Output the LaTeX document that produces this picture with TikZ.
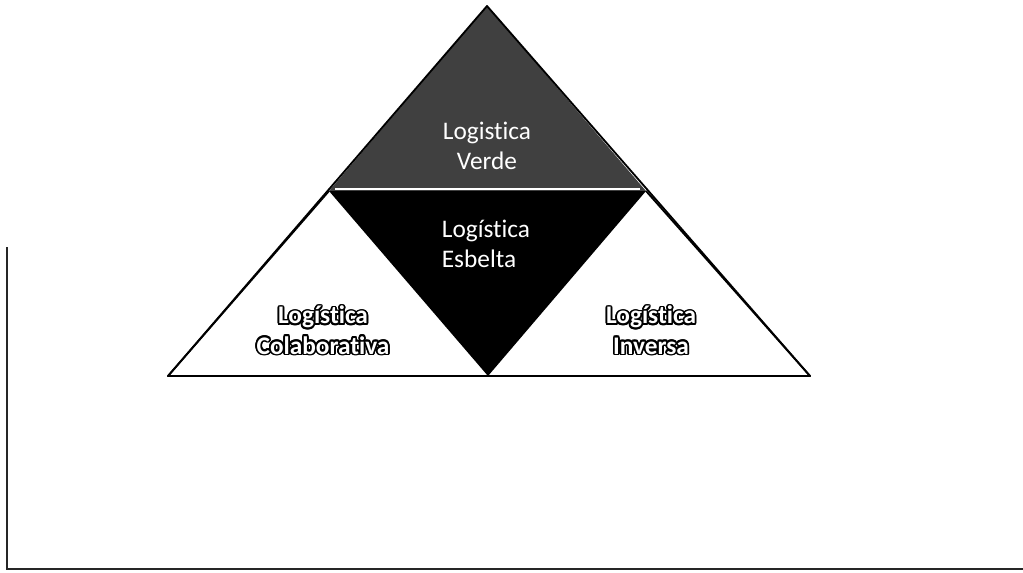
\documentclass[tikz,border=0pt]{standalone}
\usepackage{fontspec}
\setmainfont[Ligatures=CommonOff]{Carlito}
\usepackage{contour}
\contourlength{1.2pt}
\usetikzlibrary{calc}
\newcommand{\outl}[1]{\contour{black}{#1}}
\tikzset{
  piece/.style={draw=black,line width=1.3pt,line join=round},
  lbl/.style={text=white,font=\fontsize{18}{21.5}\selectfont,align=center,inner sep=0pt},
  frame/.style={line width=1.3pt,black!85}
}
\begin{document}
\begin{tikzpicture}[x=0.025cm,y=-0.025cm]
  \useasboundingbox (0,0) rectangle (1023,572);
  % corners of the pyramid
  \coordinate (apex) at (487,6);
  \coordinate (ml) at (329,191);
  \coordinate (mr) at (646,191);
  \coordinate (bl) at (168,376);
  \coordinate (bm) at (488,376);
  \coordinate (br) at (810,376);
  % the four pieces
  \fill[black!75] (apex) -- (ml) -- (mr) -- cycle;
  \fill[black] (ml) -- (mr) -- (bm) -- cycle;
  \draw[piece] (ml) -- (bl) -- (bm);
  \draw[piece] (mr) -- (br) -- (bm);
  \draw[piece] (apex) -- (bl) -- (br) -- cycle;
  \draw[white,line width=0.8pt] ($(ml)+(6,-2)$) -- ($(mr)+(-6,-2)$);
  % labels
  \node[lbl] (verde) at (487,146) {Logistica\\Verde};
  \node[lbl,align=left] (esbelta) at (486,244) {Logística\\Esbelta};
  \node[lbl,font=\fontsize{18}{21.5}\selectfont\bfseries] (colab) at (323,331) {\outl{Logística}\\\outl{Colaborativa}};
  \node[lbl,font=\fontsize{18}{21.5}\selectfont\bfseries] (inversa) at (651,331) {\outl{Logística}\\\outl{Inversa}};
  % page frame
  \coordinate (ftop) at (7,247);
  \coordinate (fcorner) at (7,569);
  \coordinate (fend) at (1023,569);
  \draw[frame] (ftop) -- (fcorner) -- (fend);
\end{tikzpicture}
\end{document}
